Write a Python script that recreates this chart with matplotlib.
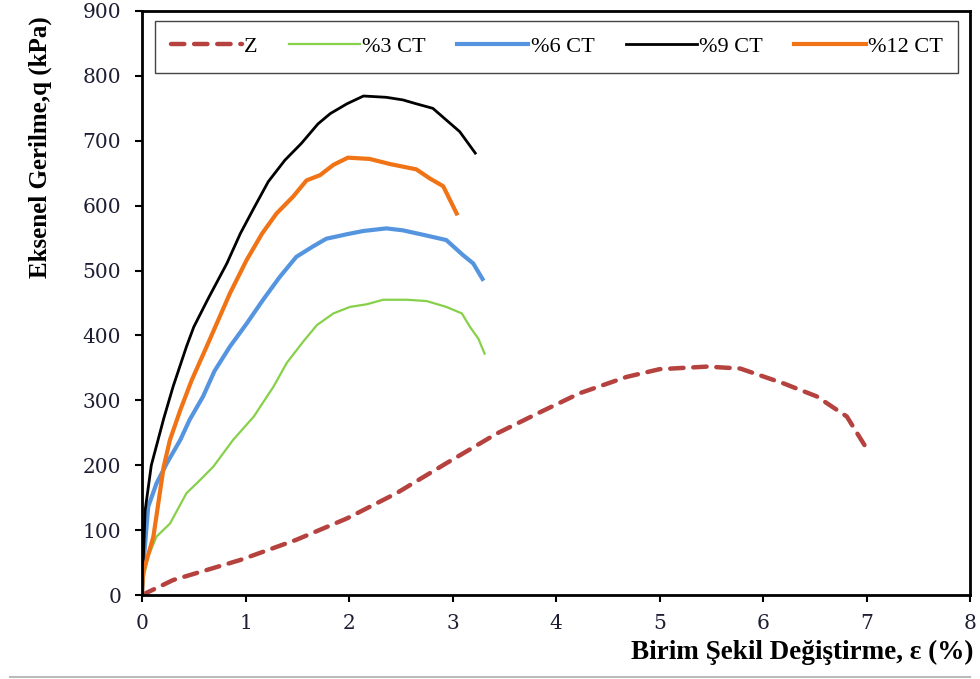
import matplotlib
matplotlib.use("Agg")
import matplotlib.pyplot as plt
from matplotlib.lines import Line2D

# Z (dashed)
z_x = [0.0, 0.30, 0.95, 1.49, 1.98, 2.46, 2.94, 3.43, 3.85, 4.23, 4.68, 5.0, 5.46, 5.78, 6.20, 6.52, 6.81, 7.0]
z_y = [0, 23, 54, 85, 118, 157, 203, 249, 282, 311, 336, 348, 352, 349, 326, 306, 275, 226]

# %3 CT
ct3_x = [0.0, 0.02, 0.06, 0.14, 0.27, 0.43, 0.56, 0.69, 0.88, 1.08, 1.27, 1.40, 1.56, 1.69, 1.85, 2.01,
         2.17, 2.33, 2.56, 2.75, 2.94, 3.09, 3.17, 3.25, 3.31]
ct3_y = [0, 30, 59, 90, 110, 157, 177, 198, 239, 275, 321, 358, 391, 416, 434, 444,
         448, 455, 455, 453, 444, 434, 413, 395, 372]

# %6 CT
ct6_x = [0.0, 0.02, 0.06, 0.14, 0.24, 0.37, 0.46, 0.59, 0.70, 0.85, 1.01, 1.17, 1.33, 1.49, 1.65, 1.78,
         1.98, 2.14, 2.36, 2.52, 2.72, 2.94, 3.10, 3.20, 3.29]
ct6_y = [0, 60, 136, 172, 203, 239, 270, 306, 345, 383, 418, 455, 490, 521, 537, 549,
         556, 561, 565, 562, 555, 547, 524, 511, 487]

# %9 CT
ct9_x = [0.0, 0.03, 0.09, 0.21, 0.30, 0.43, 0.50, 0.64, 0.82, 0.95, 1.08, 1.22, 1.38, 1.54, 1.70, 1.82,
         1.98, 2.14, 2.36, 2.52, 2.65, 2.81, 2.94, 3.07, 3.22]
ct9_y = [0, 130, 200, 272, 321, 383, 413, 457, 511, 557, 596, 637, 670, 696, 726, 742,
         757, 769, 767, 763, 757, 750, 732, 714, 681]

# %12 CT
ct12_x = [0.0, 0.01, 0.11, 0.21, 0.27, 0.37, 0.48, 0.625, 0.85, 1.01, 1.16, 1.30, 1.46, 1.59, 1.72, 1.85,
          1.99, 2.20, 2.40, 2.65, 2.78, 2.91, 3.04]
ct12_y = [0, 34, 90, 198, 239, 285, 331, 383, 465, 516, 557, 588, 614, 639, 647, 663,
          674, 672, 664, 656, 642, 630, 588]

x_ticks = [0, 1, 2, 3, 4, 5, 6, 7, 8]
y_ticks = [0, 100, 200, 300, 400, 500, 600, 700, 800, 900]

plt.rcParams['font.family'] = ['Liberation Serif', 'DejaVu Serif']

fig = plt.figure(figsize=(9.8, 6.79), dpi=100)
ax = fig.add_axes([0.1449, 0.1237, 0.8449, 0.8601])

ax.plot(z_x, z_y, color='#b5423e', lw=3.2, dashes=(3, 2.2), dash_capstyle='round', label='Z')
ax.plot(ct3_x, ct3_y, color='#86d04a', lw=1.6, label='%3 CT')
ax.plot(ct6_x, ct6_y, color='#5595e0', lw=3.0, label='%6 CT')
ax.plot(ct9_x, ct9_y, color='black', lw=2.0, label='%9 CT')
ax.plot(ct12_x, ct12_y, color='#f07316', lw=3.0, label='%12 CT')

ax.set_xlim(0, 8)
ax.set_ylim(0, 900)
ax.set_xticks(x_ticks)
ax.set_yticks(y_ticks)
ax.tick_params(direction='out', length=5, width=1.5, labelsize=14.5, colors='black',
               labelcolor='#1d1d33')
ax.tick_params(axis='y', pad=10)
ax.tick_params(axis='x', pad=9)
for lbl in ax.get_xticklabels() + ax.get_yticklabels():
    lbl.set_family('DejaVu Serif')
for s in ax.spines.values():
    s.set_linewidth(2.0)
    s.set_color('black')

ax.set_xlabel('Birim Şekil Değiştirme, ε (%)', fontsize=19.5, fontweight='bold')
ax.xaxis.set_label_coords(0.798, -0.077)
ax.set_ylabel('Eksenel Gerilme,q (kPa)', fontsize=18, fontweight='bold')
ax.yaxis.set_label_coords(-0.109, 0.767)

leg = ax.legend(loc='upper left', bbox_to_anchor=(0.0157, 0.983, 0.97, 0.0), mode='expand',
                ncol=5, fontsize=16, handlelength=3.2, handletextpad=0.1, columnspacing=1.0,
                fancybox=False, framealpha=1, borderpad=0.7, borderaxespad=0)
leg.get_frame().set_edgecolor('#444444')
leg.get_frame().set_linewidth(1.0)

fig.add_artist(Line2D([0.01, 0.99], [0.003, 0.003], color='#bbbbbb', lw=1.5,
                      transform=fig.transFigure))

fig.savefig('out.png', dpi=100)
